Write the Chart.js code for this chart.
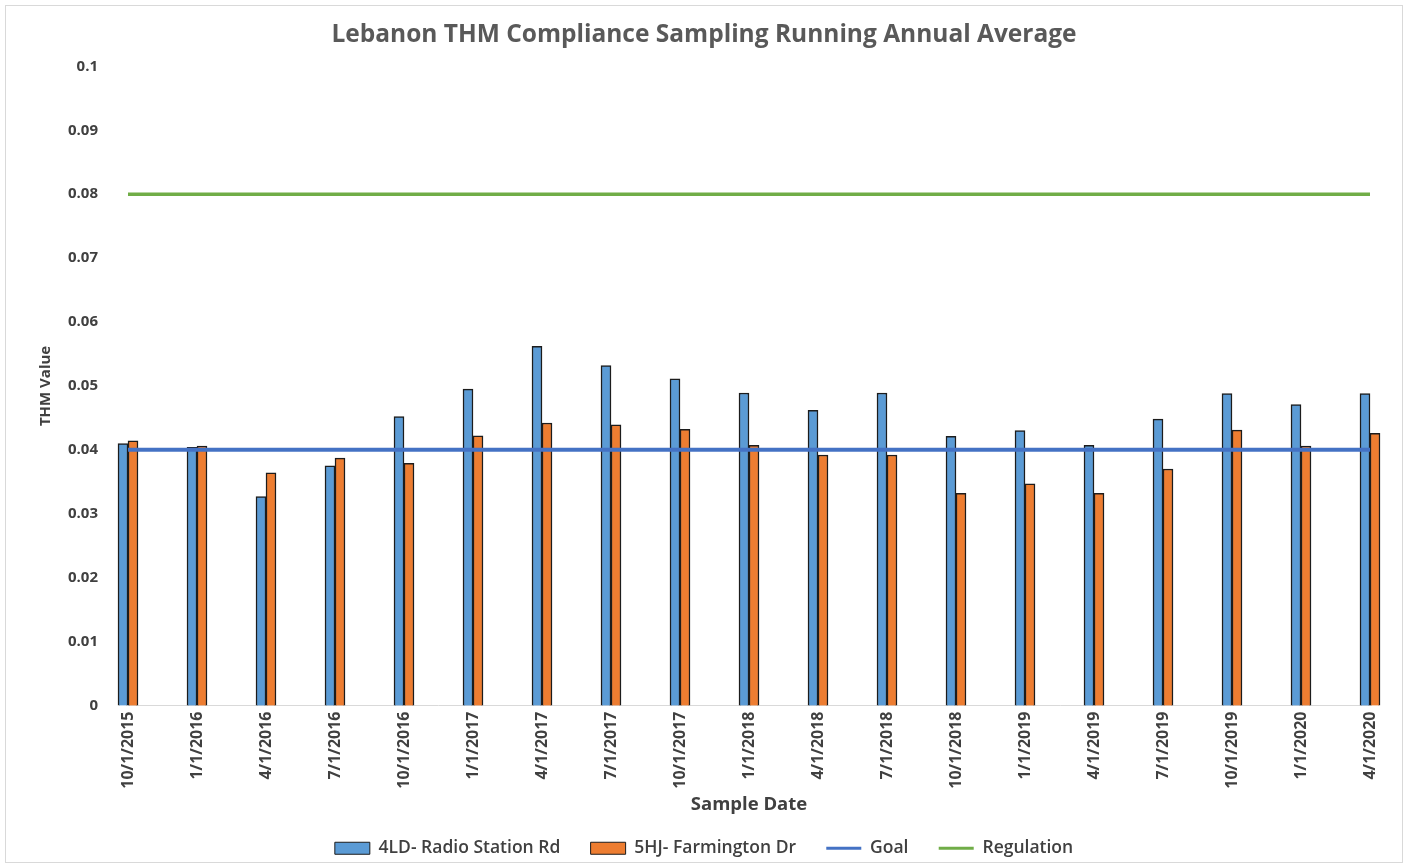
<!DOCTYPE html>
<html>
<head>
<meta charset="utf-8">
<title>Lebanon THM Compliance Sampling</title>
<script src="https://cdn.jsdelivr.net/npm/chart.js@4.4.1/dist/chart.umd.min.js"></script>
<style>
  body { margin: 0; background: #fff; }
  .frame {
    position: absolute;
    left: 5px;
    top: 5px;
    width: 1396px;
    height: 856px;
    border: 1px solid #d9d9d9;
  }
  canvas { display: block; }
</style>
</head>
<body>
<div class="frame">
  <canvas id="thmChart" width="1396" height="856"></canvas>
</div>
<script>
// quarterly sample dates
const sampleDates = [
  '10/1/2015', '1/1/2016', '4/1/2016', '7/1/2016', '10/1/2016',
  '1/1/2017', '4/1/2017', '7/1/2017', '10/1/2017', '1/1/2018',
  '4/1/2018', '7/1/2018', '10/1/2018', '1/1/2019', '4/1/2019',
  '7/1/2019', '10/1/2019', '1/1/2020', '4/1/2020',
];

// running annual averages per site
const radioStationRd = [
  0.0410, 0.0404, 0.0327, 0.0375, 0.0452,
  0.0495, 0.0562, 0.0532, 0.0511, 0.0489,
  0.0462, 0.0489, 0.0421, 0.0430, 0.0407,
  0.0448, 0.0488, 0.0471, 0.0488,
];
const farmingtonDr = [
  0.0414, 0.0406, 0.0364, 0.0387, 0.0379,
  0.0422, 0.0442, 0.0439, 0.0432, 0.0407,
  0.0392, 0.0392, 0.0332, 0.0347, 0.0332,
  0.0370, 0.0431, 0.0406, 0.0426,
];

// reference levels
const goalLevel = 0.04;
const regulationLevel = 0.08;

const yTickLabels = ['0', '0.01', '0.02', '0.03', '0.04', '0.05', '0.06', '0.07', '0.08', '0.09', '0.1'];

const fontFamily = '"Open Sans", sans-serif';
const textColor = '#404040';
const barEdge = '#1c1c1c';

const ctx = document.getElementById('thmChart').getContext('2d');

const chartConfig = {
  type: 'bar',
  data: {
    labels: sampleDates,
    datasets: [
      {
        label: '4LD- Radio Station Rd',
        data: radioStationRd,
        backgroundColor: '#5b9bd5',
        borderColor: barEdge,
        borderWidth: 1.5,
        barThickness: 10,
        order: 2,
        clip: false,
      },
      {
        label: '5HJ- Farmington Dr',
        data: farmingtonDr,
        backgroundColor: '#ed7d31',
        borderColor: barEdge,
        borderWidth: 1.5,
        barThickness: 10,
        order: 2,
        clip: false,
      },
      {
        type: 'line',
        label: 'Goal',
        data: sampleDates.map(() => goalLevel),
        borderColor: '#4472c4',
        backgroundColor: '#4472c4',
        borderWidth: 4,
        pointRadius: 0,
        order: 1,
        clip: false,
      },
      {
        type: 'line',
        label: 'Regulation',
        data: sampleDates.map(() => regulationLevel),
        borderColor: '#70ad47',
        backgroundColor: '#70ad47',
        borderWidth: 3.5,
        pointRadius: 0,
        order: 1,
        clip: false,
      },
    ],
  },
  options: {
    responsive: false,
    animation: false,
    maintainAspectRatio: false,
    layout: {
      padding: { left: 0, right: 0, top: 0, bottom: -5 },
    },
    plugins: {
      title: {
        display: true,
        text: 'Lebanon THM Compliance Sampling Running Annual Average',
        color: '#595959',
        font: { family: fontFamily, size: 24.5, weight: 'bold' },
        padding: { top: 14, bottom: 17 },
      },
      legend: {
        position: 'bottom',
        labels: {
          color: textColor,
          font: { family: fontFamily, size: 17.5, weight: '600' },
          usePointStyle: true,
          pointStyleWidth: 35,
          boxHeight: 12,
          padding: 3,
          generateLabels: (chart) => {
            const items = Chart.defaults.plugins.legend.labels.generateLabels(chart);
            items.sort((a, b) => a.datasetIndex - b.datasetIndex);
            return items.map((item, i) => {
              const ds = chart.data.datasets[item.datasetIndex];
              const isLine = ds.type === 'line';
              item.pointStyle = isLine ? 'line' : 'rect';
              item.lineWidth = isLine ? 3 : 1;
              item.strokeStyle = isLine ? ds.borderColor : barEdge;
              if (i < items.length - 1) item.text += '      ';
              return item;
            });
          },
        },
      },
      tooltip: { enabled: false },
    },
    scales: {
      x: {
        offset: false,
        grid: { display: false, drawTicks: false },
        border: { display: true, color: '#d9d9d9', width: 1 },
        ticks: {
          autoSkip: false,
          minRotation: 90,
          maxRotation: 90,
          padding: 6,
          color: textColor,
          font: { family: fontFamily, size: 16, weight: 'bold' },
        },
        title: {
          display: true,
          text: 'Sample Date',
          color: textColor,
          font: { family: fontFamily, size: 18.5, weight: 'bold' },
          padding: { top: 0, bottom: 21 },
        },
        afterFit: (scale) => {
          scale.height = 131;
        },
      },
      y: {
        min: 0,
        max: 0.1,
        grid: { display: false, drawTicks: false },
        border: { display: false },
        ticks: {
          stepSize: 0.01,
          padding: 30,
          color: textColor,
          font: { family: fontFamily, size: 15, weight: 'bold' },
          callback: (value, index) => yTickLabels[index],
        },
        title: {
          display: true,
          text: 'THM Value',
          color: textColor,
          font: { family: fontFamily, size: 15, weight: 'bold' },
          padding: { top: 31, bottom: 0 },
        },
        afterFit: (scale) => {
          scale.width = 122;
        },
      },
      // empty right-hand gutter so the last group of bars has room
      gutter: {
        type: 'linear',
        position: 'right',
        display: true,
        grid: { display: false, drawTicks: false },
        border: { display: false },
        ticks: { display: false },
        afterFit: (scale) => {
          scale.width = 32;
        },
      },
    },
  },
};

const thmChart = new Chart(ctx, chartConfig);
</script>
</body>
</html>
